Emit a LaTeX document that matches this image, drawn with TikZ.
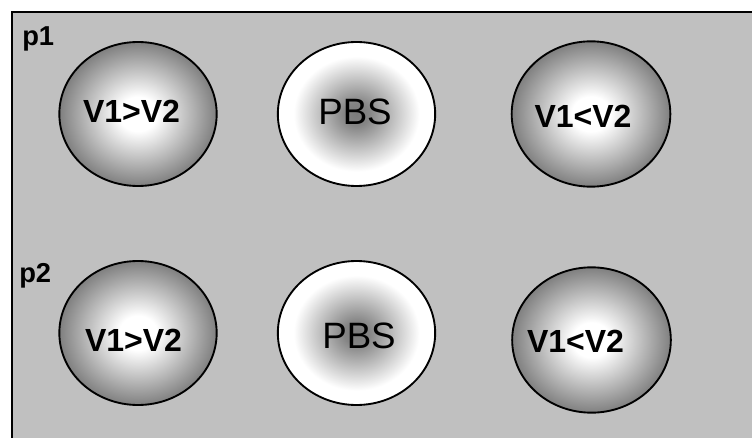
\documentclass[tikz,border=0pt]{standalone}
\usepackage{fontspec}
\setmainfont{Liberation Sans}
\usetikzlibrary{shapes.geometric}

\definecolor{panel}{RGB}{192,192,192}

% Bright centre fading to grey at the rim
\pgfdeclareradialshading{glow}{\pgfpoint{0bp}{0bp}}{%
  color(0bp)=(white); color(6bp)=(white); color(25bp)=(black!50); color(50bp)=(black!50)}
% Grey centre fading to white at the rim
\pgfdeclareradialshading{core}{\pgfpoint{0bp}{0bp}}{%
  color(0bp)=(black!52); color(4bp)=(black!48); color(20bp)=(white); color(25bp)=(white); color(50bp)=(white)}

\tikzset{
  blob/.style={ellipse, draw=black, line width=1.4pt, inner sep=0pt,
               minimum width=118pt, minimum height=108pt},
  cell/.style={blob, shading=glow},
  splitter/.style={blob, shading=core},
  vlabel/.style={anchor=base, inner sep=0pt, font=\fontsize{24}{28}\selectfont\bfseries},
  plabel/.style={anchor=base, inner sep=0pt, font=\fontsize{27.5}{32}\selectfont},
  rowlabel/.style={anchor=base west, inner sep=0pt, font=\fontsize{20.5}{24}\selectfont\bfseries}
}

\begin{document}
\begin{tikzpicture}[x=0.75pt,y=-0.75pt]
  \useasboundingbox (0,0) rectangle (752,438);
  \clip (0,0) rectangle (752,438);
  \fill[white] (0,0) rectangle (752,438);

  % grey panel
  \draw[fill=panel, line width=1.5pt] (12,12.5) rectangle (780,470);

  % row labels
  \node[rowlabel] (p1) at (22,46) {p1};
  \node[rowlabel] (p2) at (19,282) {p2};

  % upper row
  \node[cell]     (a1) at (138,114)   {};
  \node[splitter] (b1) at (356.5,114) {};
  \node[cell, minimum width=119pt, minimum height=109pt] (c1) at (591,114) {};

  % lower row
  \node[cell]     (a2) at (138,333)   {};
  \node[splitter] (b2) at (356.5,333) {};
  \node[cell, minimum width=119pt, minimum height=109pt] (c2) at (591.5,340) {};

  % labels inside the ellipses
  \node[vlabel] (ta1) at (131.5,123) {V1>V2};
  \node[plabel] (tb1) at (355,125)   {PBS};
  \node[vlabel] (tc1) at (583,128)   {V1<V2};
  \node[vlabel] (ta2) at (133.5,351) {V1>V2};
  \node[plabel] (tb2) at (359,348)   {PBS};
  \node[vlabel] (tc2) at (575.5,352) {V1<V2};
\end{tikzpicture}
\end{document}
